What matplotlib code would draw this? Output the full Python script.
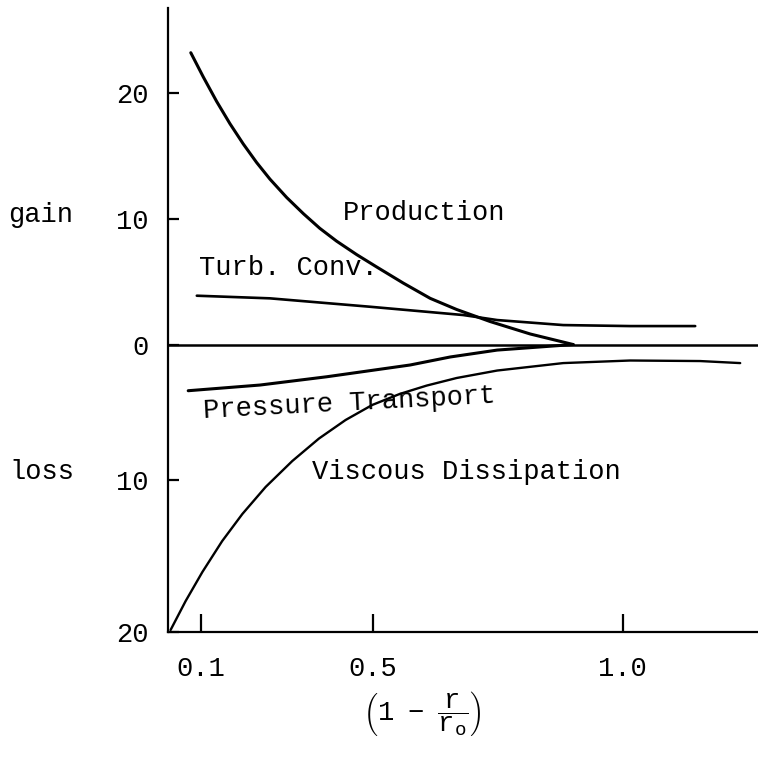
import numpy as np
import matplotlib
matplotlib.use("Agg")
import matplotlib.pyplot as plt

plt.rcParams['font.family'] = ['Liberation Mono', 'DejaVu Sans']
plt.rcParams['mathtext.fontset'] = 'custom'
plt.rcParams['mathtext.rm'] = 'Liberation Mono'
plt.rcParams['mathtext.it'] = 'Liberation Mono'

# turbulent energy balance terms vs (1 - r/r0); gain > 0, loss < 0
prod_x = [0.077, 0.106, 0.137, 0.168, 0.199, 0.230, 0.261, 0.300, 0.339, 0.377,
          0.416, 0.463, 0.508, 0.561, 0.615, 0.668, 0.735, 0.815, 0.901]
prod_y = [23.20, 21.28, 19.34, 17.57, 15.96, 14.49, 13.17, 11.71, 10.42, 9.26,
          8.24, 7.16, 6.18, 4.90, 3.68, 2.79, 1.83, 0.84, 0.0]

conv_x = [0.091, 0.261, 0.494, 0.681, 0.749, 0.881, 1.015, 1.145]
conv_y = [3.89, 3.68, 3.01, 2.35, 1.95, 1.55, 1.47, 1.47]

press_x = [0.071, 0.238, 0.393, 0.575, 0.655, 0.749, 0.901]
press_y = [-3.41, -2.99, -2.38, -1.51, -0.92, -0.41, 0.0]

visc_x = [0.030, 0.065, 0.104, 0.150, 0.197, 0.251, 0.313, 0.375, 0.437, 0.499,
          0.554, 0.608, 0.668, 0.749, 0.881, 1.015, 1.155, 1.235]
visc_y = [-19.90, -17.99, -16.07, -14.03, -12.24, -10.46, -8.60, -6.94, -5.57, -4.46,
          -3.65, -3.03, -2.47, -1.92, -1.37, -1.18, -1.22, -1.37]

x_ticks = [0.1, 0.5, 1.0]
x_ticklabels = ['0.1', '0.5', '1.0']
y_ticks = [20, 10, 0, -10, -20]
y_ticklabels = ['20', '10', '0', '10', '20']

# hand-ruled axes: tick spacing on the original sheet is uneven, so use piecewise scales
xs_val = np.array([-1.0, 0.1, 0.5, 1.0, 3.0])
xs_pos = np.array([200.7 - 1.1 * 430, 200.7, 372.7, 622.7, 622.7 + 2.0 * 500])
ys_val = np.array([-60.0, -20.0, -10.0, 0.0, 10.0, 20.0, 60.0])
ys_pos = -np.array([631.5 + 40 * 15.15, 631.5, 480.0, 344.5, 219.0, 93.0, 93.0 - 40 * 12.6])


def fwd_x(v):
    return np.interp(v, xs_val, xs_pos)


def inv_x(p):
    return np.interp(p, xs_pos, xs_val)


def fwd_y(v):
    return np.interp(v, ys_val, ys_pos)


def inv_y(p):
    return np.interp(p, ys_pos, ys_val)


fig = plt.figure(figsize=(7.58, 7.58), dpi=100)
ax = fig.add_axes([168 / 758, 1 - 631.5 / 758, (758 - 168) / 758, (631.5 - 8) / 758])
ax.set_xscale('function', functions=(fwd_x, inv_x))
ax.set_yscale('function', functions=(fwd_y, inv_y))
ax.set_xlim(0.024, 1.2706)
ax.set_ylim(-20, 26.75)

ax.plot(prod_x, prod_y, color='black', lw=2.2, solid_capstyle='round', solid_joinstyle='round')
ax.plot(conv_x, conv_y, color='black', lw=1.9, solid_capstyle='round', solid_joinstyle='round')
ax.plot(press_x, press_y, color='black', lw=2.2, solid_capstyle='round', solid_joinstyle='round')
ax.plot(visc_x, visc_y, color='black', lw=1.7, solid_capstyle='round', solid_joinstyle='round')
ax.axhline(0, color='black', lw=1.8)

for side in ['top', 'right']:
    ax.spines[side].set_visible(False)
for side in ['left', 'bottom']:
    ax.spines[side].set_linewidth(1.6)

fs = 19.5
ax.set_xticks(x_ticks, x_ticklabels)
ax.set_yticks(y_ticks, y_ticklabels)
ax.tick_params(axis='x', direction='in', length=13, width=1.6, pad=18, labelsize=fs)
ax.tick_params(axis='y', direction='in', length=8, width=1.6, pad=14, labelsize=fs)

ax.text(0.431, 10.48, 'Production', fontsize=fs, va='center', ha='left')
ax.text(0.097, 6.07, 'Turb. Conv.', fontsize=fs, va='center', ha='left')
ax.text(0.106, -4.9, 'Pressure Transport', fontsize=fs, va='center', ha='left',
        rotation=3, rotation_mode='anchor')
ax.text(0.358, -9.39, 'Viscous Dissipation', fontsize=fs, va='center', ha='left')

fig.text(8 / 758, 1 - 215 / 758, 'gain', fontsize=fs, va='center', ha='left')
fig.text(9 / 758, 1 - 472 / 758, 'loss', fontsize=fs, va='center', ha='left')
fig.text(422 / 758, 1 - 713 / 758, r'$\left(1\ \ -\ \ \dfrac{r}{r_o}\right)$',
         fontsize=fs, va='center', ha='center')

fig.savefig('out.png', dpi=100)
